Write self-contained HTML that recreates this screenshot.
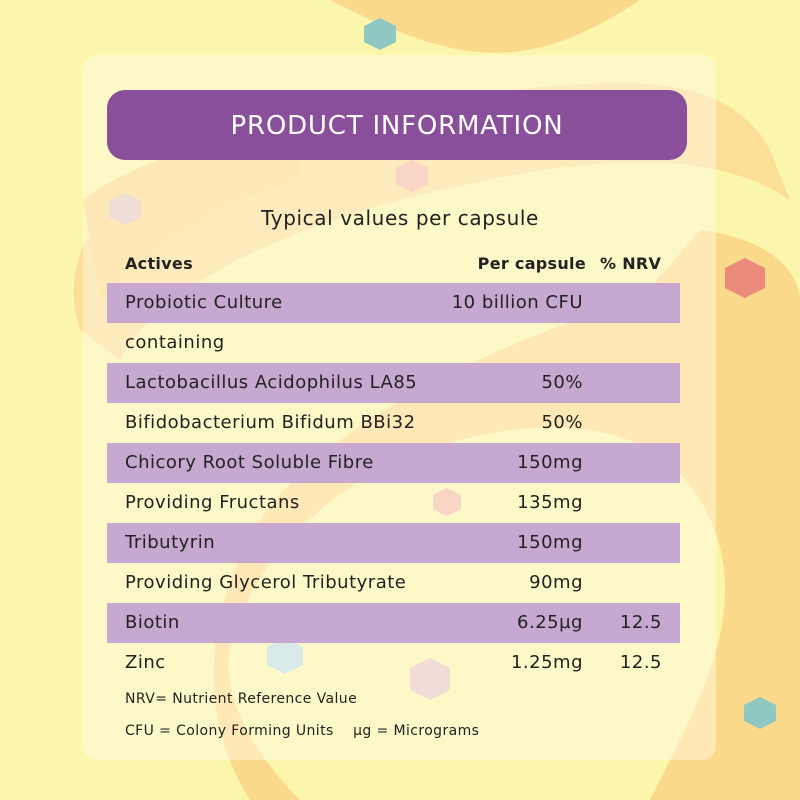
<!DOCTYPE html><html><head><style>
body{margin:0;width:800px;height:800px;overflow:hidden;background:#fbf6ac;font-family:"DejaVu Sans",sans-serif;position:relative}
svg.bg{position:absolute;left:0;top:0}
.card{position:absolute;left:83px;top:55px;width:633px;height:705px;border-radius:14px;background:rgba(255,250,235,0.45)}
.hdr{position:absolute;left:107px;top:90px;width:580px;height:70px;border-radius:18px;background:#8a4f9b;color:#fff;font-size:26px;text-align:center;line-height:72px;letter-spacing:0.8px}
.t{position:absolute;color:#222;font-size:18px;white-space:nowrap;letter-spacing:0.5px}
.row{position:absolute;left:107px;width:573px;height:40px}
.p{background:#c7a8d0}
.r{text-align:right}
.f{font-size:14px;letter-spacing:0.4px}
</style></head><body>
<svg class="bg" width="800" height="800">
<path d="M330 0 C450 60 520 80 640 0 Z" fill="#fbd98a"/>
<path d="M80 330 C40 200 200 120 420 100 C600 80 720 60 770 150 L790 200 C700 140 560 160 400 200 C250 240 150 300 120 360 Z" fill="#fbdf97"/>
<path d="M700 230 C780 240 800 280 800 300 L800 800 L650 800 C700 700 760 600 700 500 C640 400 500 420 400 460 C330 490 250 560 230 650 C220 700 260 760 300 800 L250 800 C200 720 200 620 260 520 C330 420 500 340 640 300 Z" fill="#fbd98a"/>
<path d="M83 200 C120 170 200 140 300 120 L300 180 C220 200 150 250 100 300 Z" fill="#fbd98a"/>
<polygon points="380,18 396,26 396,42 380,50 364,42 364,26" fill="#8fc7c3"/>
<polygon points="760,697 776,705 776,721 760,729 744,721 744,705" fill="#8fc7c3"/>
<polygon points="745,258 765,268 765,288 745,298 725,288 725,268" fill="#ec8a7c"/>
<polygon points="285,638 303,647 303,665 285,674 267,665 267,647" fill="#bcdde8"/>
<polygon points="430,658 450,668 450,690 430,700 410,690 410,668" fill="#e5c4c8"/>
<polygon points="125,193 141,201 141,217 125,225 109,217 109,201" fill="#e2c7c8"/>
<polygon points="412,160 428,168 428,184 412,192 396,184 396,168" fill="#f1b5a8"/>
<polygon points="447,488 461,495 461,509 447,516 433,509 433,495" fill="#f2b6a6"/>
</svg>
<div class="card"></div>
<div class="hdr">PRODUCT INFORMATION</div>
<div class="t" style="left:0;width:800px;text-align:center;top:206px;font-size:20px;letter-spacing:0.6px">Typical values per capsule</div>
<div class="t" style="left:125px;top:254px;font-weight:bold;font-size:16px;letter-spacing:0.3px">Actives</div>
<div class="t r" style="left:400px;width:186px;top:254px;font-weight:bold;font-size:16px;letter-spacing:0.3px">Per capsule</div>
<div class="t" style="left:600px;top:254px;font-weight:bold;font-size:16px;letter-spacing:0.3px">% NRV</div>
<div class="row p" style="top:283px"></div>
<div class="row p" style="top:363px"></div>
<div class="row p" style="top:443px"></div>
<div class="row p" style="top:523px"></div>
<div class="row p" style="top:603px"></div>
<div class="t" style="left:125px;top:292px">Probiotic Culture</div><div class="t r" style="left:383px;width:200px;top:292px">10 billion CFU</div>
<div class="t" style="left:125px;top:332px">containing</div>
<div class="t" style="left:125px;top:372px">Lactobacillus Acidophilus LA85</div><div class="t r" style="left:383px;width:200px;top:372px">50%</div>
<div class="t" style="left:125px;top:412px">Bifidobacterium Bifidum BBi32</div><div class="t r" style="left:383px;width:200px;top:412px">50%</div>
<div class="t" style="left:125px;top:452px">Chicory Root Soluble Fibre</div><div class="t r" style="left:383px;width:200px;top:452px">150mg</div>
<div class="t" style="left:125px;top:492px">Providing Fructans</div><div class="t r" style="left:383px;width:200px;top:492px">135mg</div>
<div class="t" style="left:125px;top:532px">Tributyrin</div><div class="t r" style="left:383px;width:200px;top:532px">150mg</div>
<div class="t" style="left:125px;top:572px">Providing Glycerol Tributyrate</div><div class="t r" style="left:383px;width:200px;top:572px">90mg</div>
<div class="t" style="left:125px;top:612px">Biotin</div><div class="t r" style="left:383px;width:200px;top:612px">6.25µg</div><div class="t r" style="left:600px;width:62px;top:612px">12.5</div>
<div class="t" style="left:125px;top:652px">Zinc</div><div class="t r" style="left:383px;width:200px;top:652px">1.25mg</div><div class="t r" style="left:600px;width:62px;top:652px">12.5</div>
<div class="t f" style="left:125px;top:691px">NRV= Nutrient Reference Value</div>
<div class="t f" style="left:125px;top:723px">CFU = Colony Forming Units &nbsp;&nbsp;&nbsp;µg = Micrograms</div>
</body></html>
